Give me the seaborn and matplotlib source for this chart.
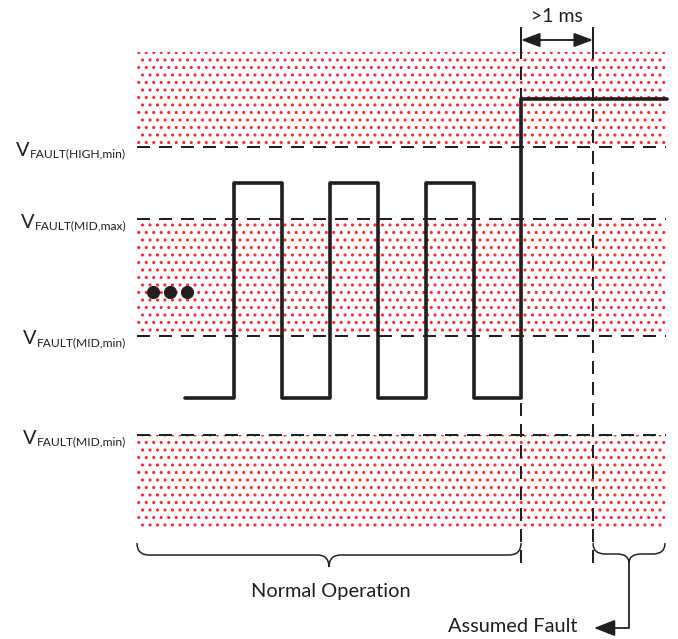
import numpy as np
import pandas as pd
import matplotlib.pyplot as plt
import seaborn as sns
from matplotlib.path import Path
from matplotlib.patches import PathPatch

# threshold levels (pixel rows, measured from the top)
threshold_tags = ['FAULT(HIGH,min)', 'FAULT(MID,max)', 'FAULT(MID,min)', 'FAULT(MID,min)']
threshold_levels = [147, 219, 336, 435]

# dotted fault regions
band_tops = [52, 219, 435]
band_bottoms = [147, 336, 530]
band_left, band_right = 137, 666

# waveform: edge times and the level held after each edge
edge_times = [185, 234, 282, 330, 378, 426, 474, 521, 667]
edge_levels = [398, 183, 398, 183, 398, 183, 398, 99]

# timing markers
marker_times = [521, 593]
span_label = '>1 ms'

ellipsis_x = [153, 170, 187]
ellipsis_y = [292, 292, 292]

normal_span = (137, 521)
fault_span = (593, 665)

ink = '#231f20'
dot_red = '#ff2a2a'

sns.set_style('white')
plt.rcParams['font.family'] = ['Lato', 'DejaVu Sans']
plt.rcParams['hatch.linewidth'] = 1.3

dpi = 90
fig = plt.figure(figsize=(678 / dpi, 639 / dpi), dpi=dpi)
ax = fig.add_axes([0, 0, 1, 1])

# dotted regions
for top, bot in zip(band_tops, band_bottoms):
    ax.fill_between([band_left, band_right], top, bot, facecolor='white',
                    edgecolor=dot_red, hatch='..', linewidth=0, zorder=1)

# threshold lines + labels
ax.hlines(threshold_levels, band_left, band_right, colors=ink, lw=1.6,
          linestyles=(0, (6.5, 4.5)), zorder=2)
for tag, lvl in zip(threshold_tags, threshold_levels):
    sub = ax.text(126, lvl + 10.5, tag, fontsize=9.6, color=ink,
                  ha='right', va='baseline')
    ax.annotate('V', xy=(0, lvl + 8.5), xycoords=(sub, 'data'),
                xytext=(-0.3, 0), textcoords='offset points',
                fontsize=16, color=ink, ha='right', va='baseline')

# timing markers
ax.vlines(marker_times, 27, 46, colors=ink, lw=1.6, zorder=3)
ax.vlines(marker_times, 46, 570, colors=ink, lw=1.6,
          linestyles=(0, (6.5, 4)), zorder=3)
ax.annotate('', xy=(marker_times[0], 40), xytext=(marker_times[1], 40),
            arrowprops=dict(arrowstyle='<|-|>,head_length=0.8,head_width=0.3',
                            color=ink, lw=1.5, shrinkA=0, shrinkB=0,
                            mutation_scale=16))
ax.text(np.mean(marker_times), 16, span_label, fontsize=15.5, color=ink,
        ha='center', va='center')

# waveform
xs = np.repeat(edge_times, 2)[1:-1]
ys = np.repeat(edge_levels, 2)
wave = pd.DataFrame({'t': xs, 'v': ys})
sns.lineplot(data=wave, x='t', y='v', sort=False, estimator=None, ax=ax,
             color=ink, lw=2.9, zorder=5)

sns.scatterplot(x=ellipsis_x, y=ellipsis_y, s=95, color=ink, edgecolor=ink,
                ax=ax, zorder=5, legend=False)


def brace(x0, x1, top, flat, tip_y, r=12):
    tip = (x0 + x1) / 2
    verts = [(x0, top), (x0, flat), (x0 + r, flat),
             (tip - r, flat), (tip, flat), (tip, tip_y),
             (tip, flat), (tip + r, flat),
             (x1 - r, flat), (x1, flat), (x1, top)]
    codes = [Path.MOVETO, Path.CURVE3, Path.CURVE3,
             Path.LINETO, Path.CURVE3, Path.CURVE3,
             Path.CURVE3, Path.CURVE3,
             Path.LINETO, Path.CURVE3, Path.CURVE3]
    ax.add_patch(PathPatch(Path(verts, codes), fill=False, edgecolor=ink,
                           lw=1.2, zorder=4))
    return tip


tip_n = brace(*normal_span, 543, 555, 567)
ax.text(tip_n + 2, 591, 'Normal Operation', fontsize=16, color=ink,
        ha='center', va='center')

tip_f = brace(*fault_span, 543, 554, 563)
ax.plot([tip_f, tip_f, 610], [563, 628, 628], color=ink, lw=1.4)
ax.annotate('', xy=(594, 628), xytext=(612, 628),
            arrowprops=dict(arrowstyle='-|>,head_length=0.9,head_width=0.35',
                            color=ink, lw=1.4, shrinkA=0, shrinkB=0,
                            mutation_scale=16))
ax.text(577, 627, 'Assumed Fault', fontsize=16, color=ink,
        ha='right', va='center')

ax.set_xlim(0, 678)
ax.set_ylim(639, 0)
ax.axis('off')

fig.savefig('out.png', dpi=dpi)
